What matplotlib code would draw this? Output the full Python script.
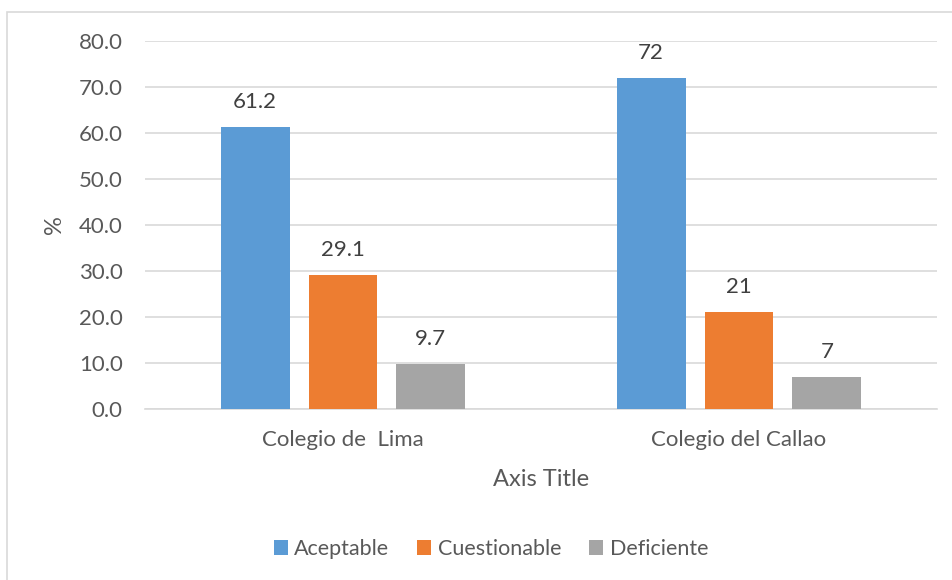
import matplotlib
matplotlib.use("Agg")
import matplotlib.pyplot as plt
import numpy as np
from matplotlib.patches import Rectangle

# school survey results, percent per rating
colegios = ["Colegio de  Lima", "Colegio del Callao"]
aceptable = [61.2, 72]
cuestionable = [29.1, 21]
deficiente = [9.7, 7]
etiquetas_aceptable = ["61.2", "72"]
etiquetas_cuestionable = ["29.1", "21"]
etiquetas_deficiente = ["9.7", "7"]
series = ["Aceptable", "Cuestionable", "Deficiente"]
yticks = [0, 10, 20, 30, 40, 50, 60, 70, 80]

colores = ["#5B9BD5", "#ED7D31", "#A5A5A5"]
GRID = "#D9D9D9"
TXT = "#595959"

plt.rcParams["font.family"] = ["Lato", "DejaVu Sans"]

fig = plt.figure(figsize=(9.53, 5.8), dpi=100)
ax = fig.add_axes([145 / 953, 1 - 409 / 580, 792 / 953, 368 / 580])

# light frame around the chart area
fig.patches.append(Rectangle((7 / 953, -0.05), 1.0, 1 - 12 / 580 + 0.05,
                             transform=fig.transFigure, fill=False,
                             edgecolor=GRID, linewidth=1.2))

x = np.arange(len(colegios))
ancho = 0.174
paso = 0.222
valores = [aceptable, cuestionable, deficiente]
textos = [etiquetas_aceptable, etiquetas_cuestionable, etiquetas_deficiente]
for i, (vals, txts) in enumerate(zip(valores, textos)):
    pos = x + (i - 1) * paso
    ax.bar(pos, vals, width=ancho, color=colores[i], label=series[i], zorder=3)
    for px, v, t in zip(pos, vals, txts):
        ax.annotate(t, (px, v), xytext=(0, 11), textcoords="offset points",
                    ha="center", va="bottom", fontsize=16, color="#404040")

ax.set_xlim(-0.5, 1.5)
ax.set_ylim(0, 80)
ax.set_yticks(yticks)
ax.set_yticklabels([f"{t:.1f}" for t in yticks])
ax.set_xticks(x)
ax.set_xticklabels(colegios)
ax.yaxis.grid(True, color=GRID, linewidth=1.2, zorder=0)
for s in ["top", "right", "left"]:
    ax.spines[s].set_visible(False)
ax.spines["bottom"].set_color(GRID)
ax.spines["bottom"].set_linewidth(1.2)
ax.tick_params(axis="both", length=0, labelsize=16, labelcolor=TXT)
ax.tick_params(axis="y", pad=16)
ax.tick_params(axis="x", pad=15)

ax.set_ylabel("%", fontsize=17, color=TXT, labelpad=10)
ax.set_xlabel("Axis Title", fontsize=17, color=TXT, labelpad=14)

fig.legend(loc="center", bbox_to_anchor=(491 / 953, 1 - 549 / 580), ncol=3,
           frameon=False, fontsize=15.5, labelcolor=TXT, handlelength=0.65,
           handleheight=0.65, handletextpad=0.3, columnspacing=1.3)

fig.savefig("out.png", dpi=100)
